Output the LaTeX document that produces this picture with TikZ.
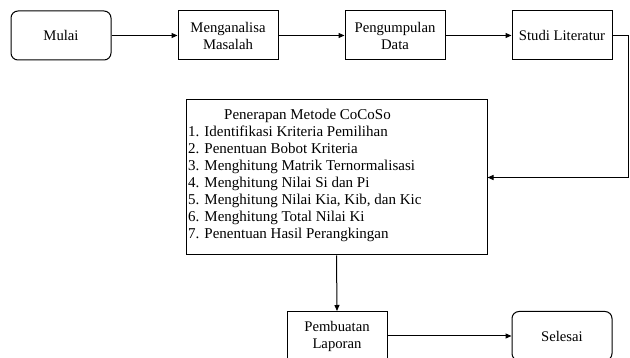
\documentclass[tikz,border=0pt]{standalone}
\usepackage{fontspec}
\setmainfont{Liberation Serif}
\usetikzlibrary{arrows.meta}
\begin{document}
\begin{tikzpicture}[x=1pt,y=-1pt,
  box/.style={draw=black, line width=1pt, minimum width=100pt, minimum height=49pt, inner sep=2pt, align=center, font=\fontsize{14.7}{17}\selectfont},
  rbox/.style={box, rounded corners=7pt},
  conn/.style={draw=black, line width=1pt, -{Triangle[length=6pt,width=5pt]}}]
\clip (0,0) rectangle (630,358);
\fill[white] (0,0) rectangle (630,358);
\node[rbox] (mulai) at (61,35.5) {Mulai};
\node[box] (analisa) at (228,35.5) {Menganalisa\\Masalah};
\node[box] (kumpul) at (395,35.5) {Pengumpulan\\Data};
\node[box] (studi) at (562,35.5) {Studi Literatur};
\node[draw=black, line width=1pt, minimum width=301pt, minimum height=155pt, inner sep=0pt] (cocoso) at (336.5,177.5) {};
\node[anchor=north west, align=left, inner sep=0pt, font=\fontsize{15}{17}\selectfont] (list) at (188,108.5)
{\hspace*{36pt}Penerapan Metode CoCoSo\\
1. Identifikasi Kriteria Pemilihan\\
2. Penentuan Bobot Kriteria\\
3. Menghitung Matrik Ternormalisasi\\
4. Menghitung Nilai Si dan Pi\\
5. Menghitung Nilai Kia, Kib, dan Kic\\
6. Menghitung Total Nilai Ki\\
7. Penentuan Hasil Perangkingan};
\node[box] (laporan) at (337,336) {Pembuatan\\Laporan};
\node[rbox] (selesai) at (562,336) {Selesai};
\draw[conn] (mulai) -- (analisa);
\draw[conn] (analisa) -- (kumpul);
\draw[conn] (kumpul) -- (studi);
\draw[conn] (studi.east) -- ++(16,0) |- (cocoso.east);
\draw[conn] (cocoso.south) -- (laporan.north);
\draw[conn] (laporan) -- (selesai);
\end{tikzpicture}
\end{document}
